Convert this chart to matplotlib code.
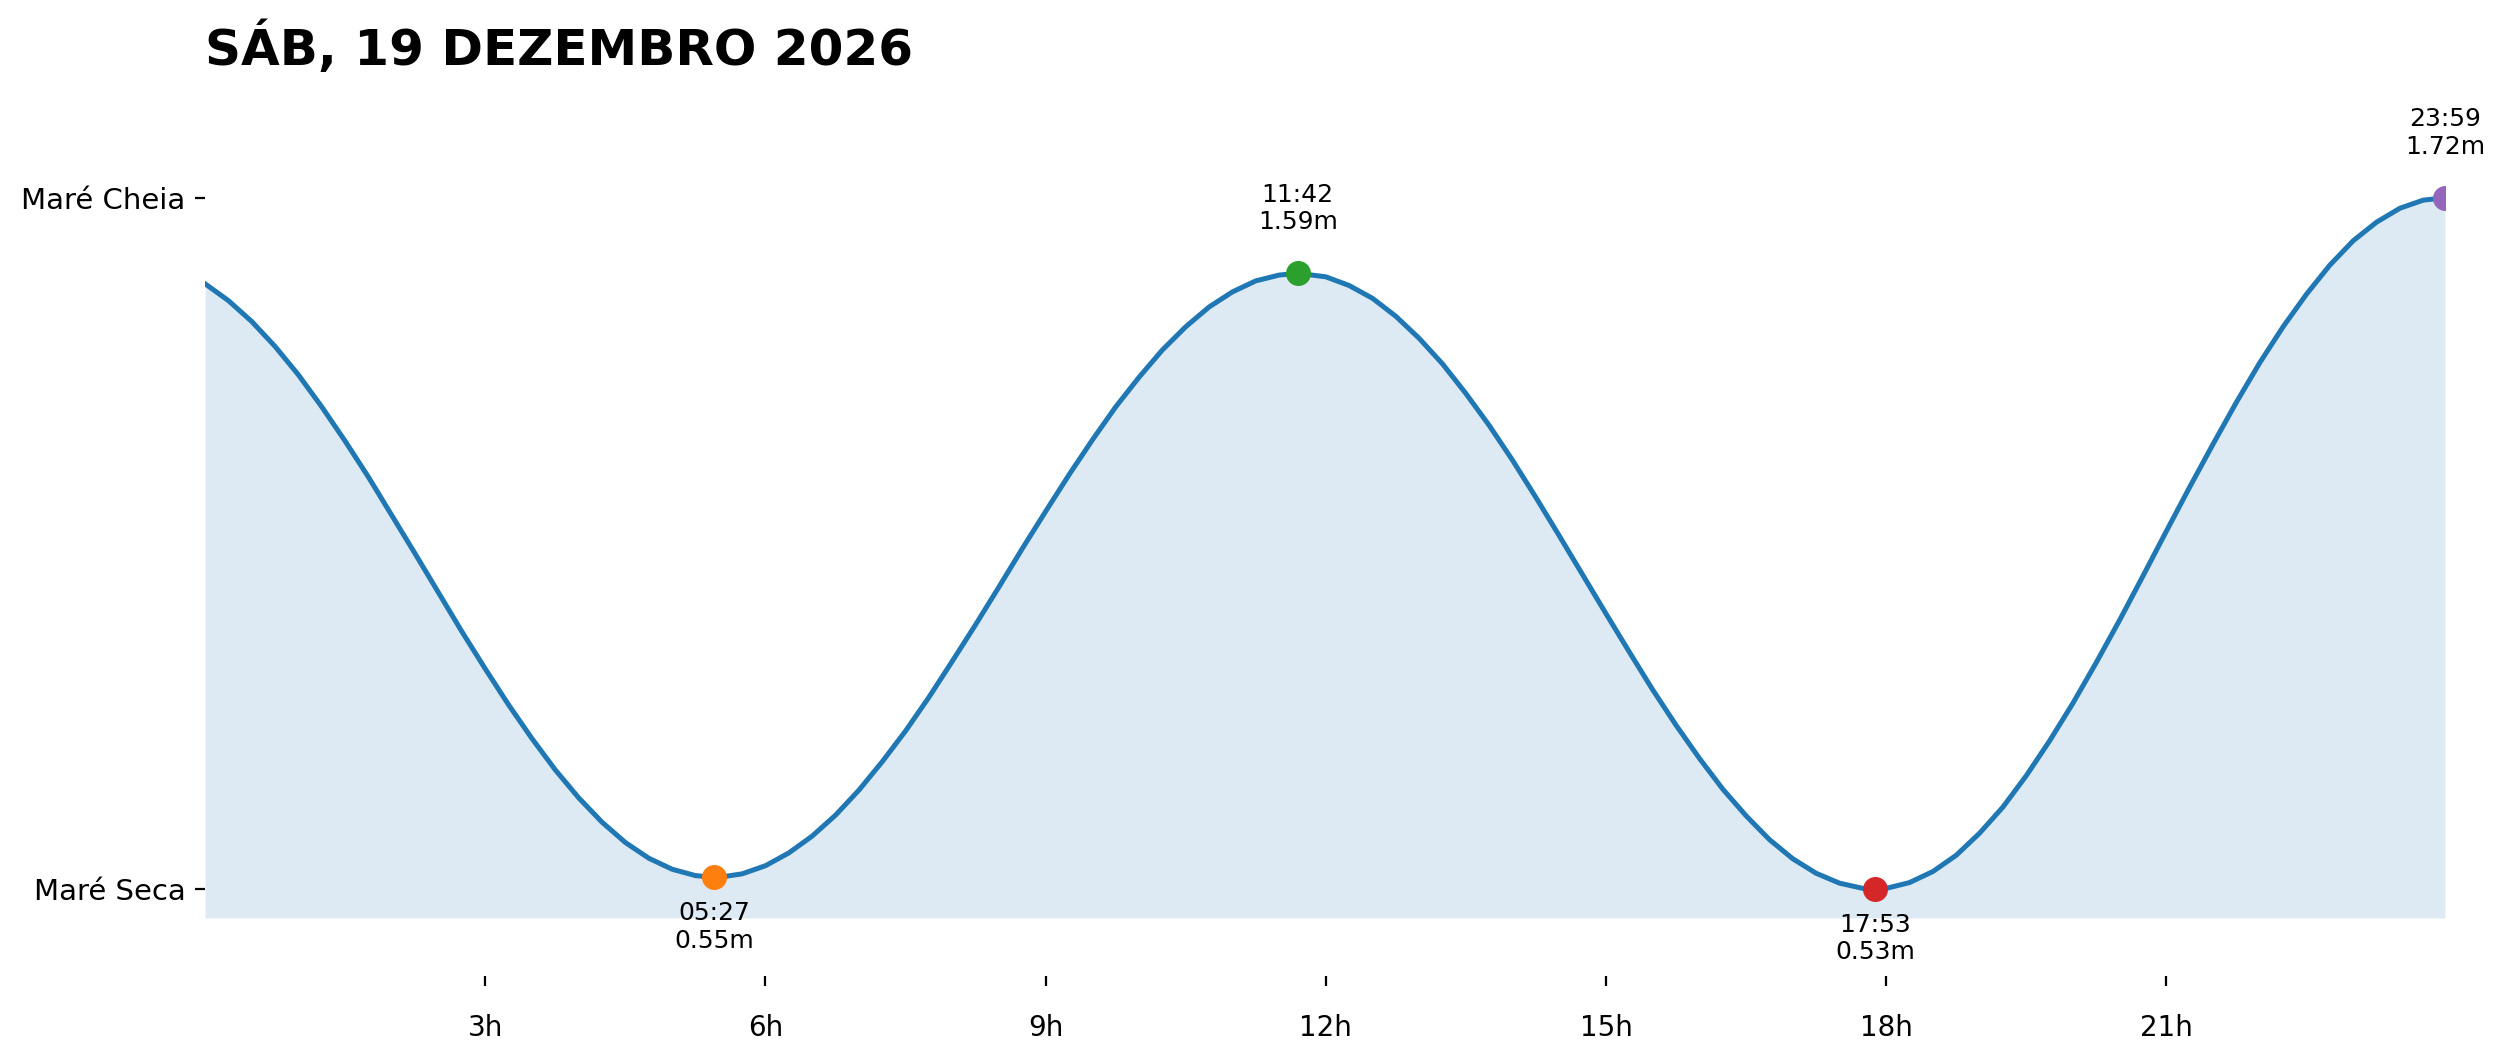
import matplotlib
matplotlib.use("Agg")
import matplotlib.pyplot as plt

titulo = "SÁB, 19 DEZEMBRO 2026"

# curva da maré, de 15 em 15 minutos (hora decimal, altura em m)
horas = [0.0, 0.25, 0.5, 0.75, 1.0, 1.25, 1.5, 1.75, 2.0, 2.25, 2.5, 2.75,
         3.0, 3.25, 3.5, 3.75, 4.0, 4.25, 4.5, 4.75, 5.0, 5.25, 5.45,
         5.5, 5.75, 6.0, 6.25, 6.5, 6.75, 7.0, 7.25, 7.5, 7.75, 8.0, 8.25,
         8.5, 8.75, 9.0, 9.25, 9.5, 9.75, 10.0, 10.25, 10.5, 10.75, 11.0, 11.25, 11.5, 11.7,
         12.0, 12.25, 12.5, 12.75, 13.0, 13.25, 13.5, 13.75, 14.0, 14.25, 14.5, 14.75,
         15.0, 15.25, 15.5, 15.75, 16.0, 16.25, 16.5, 16.75, 17.0, 17.25, 17.5, 17.75, 17.883,
         18.0, 18.25, 18.5, 18.75, 19.0, 19.25, 19.5, 19.75, 20.0, 20.25, 20.5, 20.75,
         21.0, 21.25, 21.5, 21.75, 22.0, 22.25, 22.5, 22.75, 23.0, 23.25, 23.5, 23.75, 23.983]
alturas = [1.572, 1.543, 1.507, 1.464, 1.415, 1.360, 1.301, 1.239, 1.173, 1.107, 1.040, 0.973,
           0.909, 0.847, 0.789, 0.735, 0.687, 0.645, 0.610, 0.583, 0.564, 0.553, 0.550,
           0.550, 0.556, 0.570, 0.592, 0.621, 0.657, 0.700, 0.749, 0.802, 0.860, 0.922, 0.985,
           1.050, 1.116, 1.180, 1.243, 1.303, 1.360, 1.411, 1.458, 1.498, 1.532, 1.558, 1.577, 1.587, 1.590,
           1.584, 1.569, 1.547, 1.516, 1.478, 1.434, 1.383, 1.328, 1.268, 1.204, 1.138, 1.071,
           1.004, 0.938, 0.873, 0.812, 0.755, 0.702, 0.656, 0.615, 0.582, 0.557, 0.540, 0.531, 0.530,
           0.531, 0.541, 0.560, 0.588, 0.626, 0.671, 0.725, 0.785, 0.850, 0.920, 0.993, 1.069,
           1.146, 1.222, 1.296, 1.368, 1.436, 1.498, 1.554, 1.604, 1.646, 1.678, 1.702, 1.716, 1.720]

# extremos (preia-mar / baixa-mar)
extremos_hora = ["05:27", "11:42", "17:53", "23:59"]
extremos_altura = [0.55, 1.59, 0.53, 1.72]
extremos_tipo = ["baixa", "alta", "baixa", "alta"]
extremos_cor = ["tab:orange", "tab:green", "tab:red", "tab:purple"]

ticks_h = [3, 6, 9, 12, 15, 18, 21]
ticks_lbl = ["3h", "6h", "9h", "12h", "15h", "18h", "21h"]


def para_horas(s):
    h, m = s.split(":")
    return int(h) + int(m) / 60


fig = plt.figure(figsize=(2501 / 200, 1062 / 200), dpi=200)
ax = fig.add_axes([0.082, 0.1356, 0.8956, 0.7875])

ymin = min(extremos_altura) - 0.05
ymax = max(extremos_altura) + 0.2

ax.plot(horas, alturas, color="tab:blue", lw=1.8, zorder=3)
ax.fill_between(horas, alturas, ymin, color="tab:blue", alpha=0.15, lw=0, zorder=2)

for hs, alt, tipo, cor in zip(extremos_hora, extremos_altura, extremos_tipo, extremos_cor):
    x = para_horas(hs)
    ax.plot(x, alt, "o", color=cor, markersize=8, zorder=5)
    if tipo == "alta":
        ax.annotate(f"{hs}\n{alt:.2f}m", (x, alt), xytext=(0, 14), textcoords="offset points",
                    ha="center", va="bottom", fontsize=9, annotation_clip=False)
    else:
        ax.annotate(f"{hs}\n{alt:.2f}m", (x, alt), xytext=(0, -8.5), textcoords="offset points",
                    ha="center", va="top", fontsize=9, annotation_clip=False)

ax.set_xlim(0, para_horas("23:59"))
ax.set_ylim(ymin, ymax)

ax.set_xticks(ticks_h)
ax.set_xticklabels(ticks_lbl, fontsize=10)
ax.set_yticks([min(extremos_altura), max(extremos_altura)])
ax.set_yticklabels(["Maré Seca", "Maré Cheia"], fontsize=10.5)
ax.tick_params(axis="x", pad=10)

for s in ax.spines.values():
    s.set_visible(False)
ax.spines["bottom"].set_position(("outward", 21))

ax.set_title(titulo, loc="left", fontsize=18, fontweight="bold", pad=6)

fig.savefig("out.png", dpi=200)
